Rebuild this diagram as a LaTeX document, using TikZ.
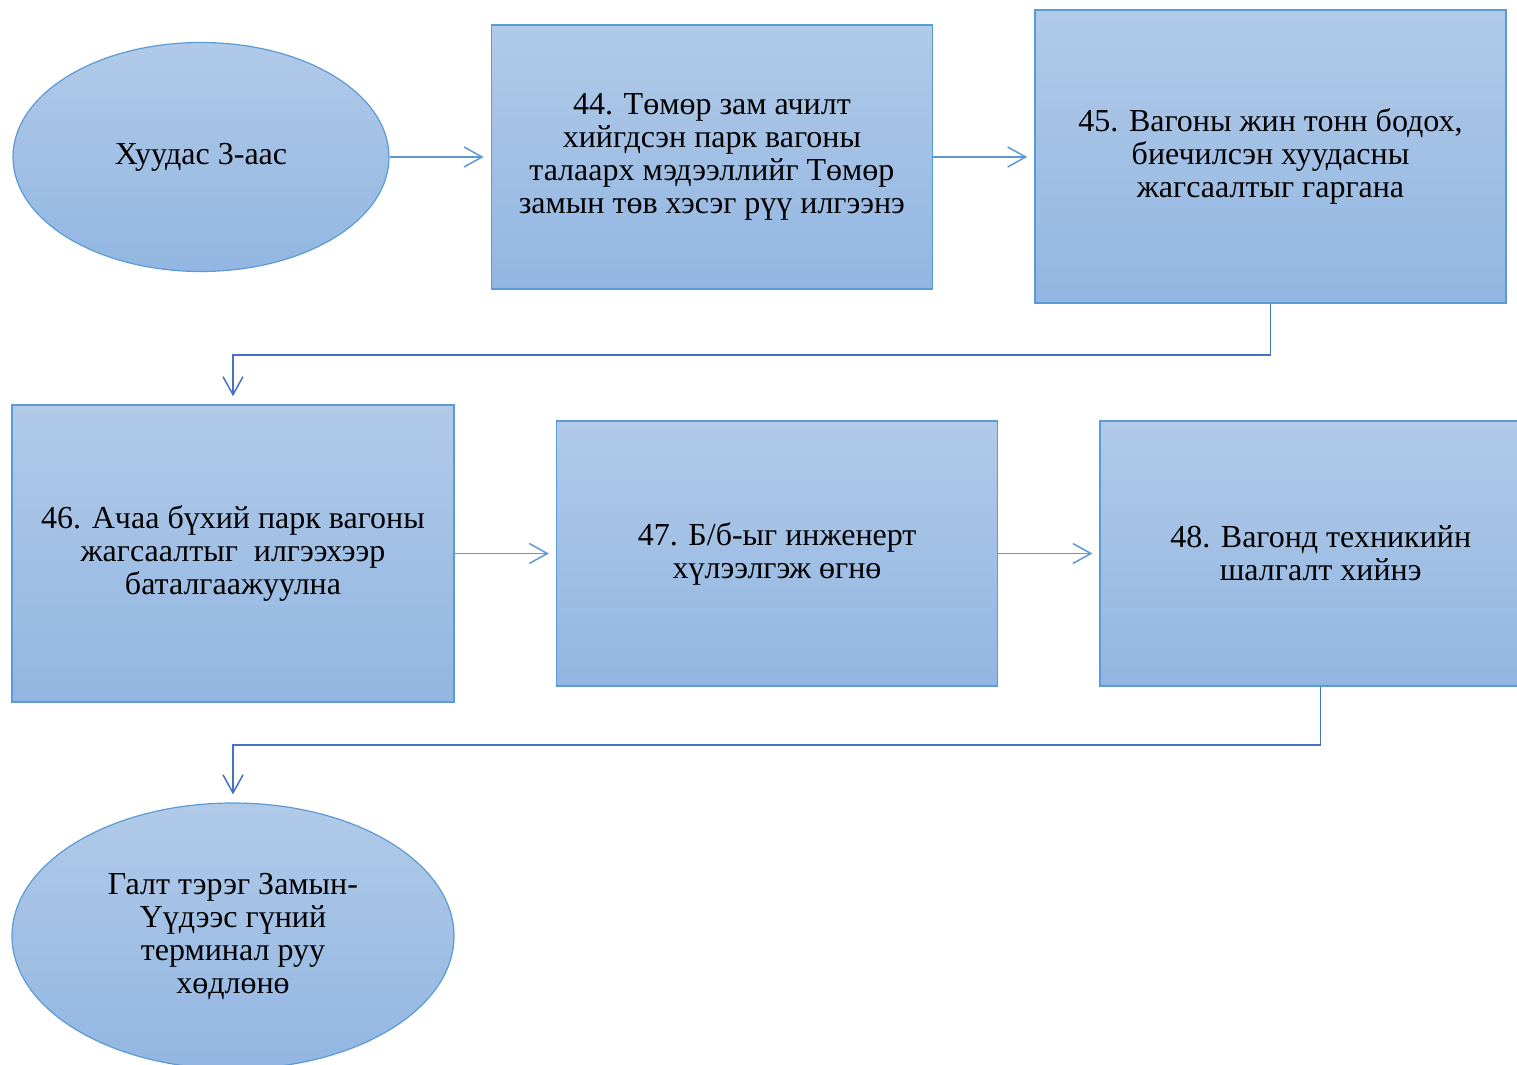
\documentclass[tikz,border=0pt]{standalone}
\usepackage{fontspec}
\setmainfont{Liberation Serif}
\usepackage{xcolor}
\usepackage{tikz}
\usetikzlibrary{shapes.geometric, arrows.meta, positioning, calc}
\definecolor{stepline}{RGB}{91,155,213}
\definecolor{steptop}{RGB}{177,202,232}
\definecolor{stepbottom}{RGB}{146,182,226}
\definecolor{elbowblue}{RGB}{68,114,196}
\tikzset{
  stepbox/.style={
    rectangle, draw=stepline, line width=0.8pt,
    top color=steptop, bottom color=stepbottom,
    align=center, font=\fontsize{16}{16.5}\selectfont, text=black,
    inner sep=0pt
  },
  terminal/.style={
    ellipse, draw=stepline, line width=0.6pt,
    top color=steptop, bottom color=stepbottom,
    align=center, font=\fontsize{16}{16.5}\selectfont, text=black,
    inner sep=0pt
  },
  arrow/.style={-{Straight Barb[length=9pt, width=10pt, line width=0.75pt]},
    line width=0.75pt, color=stepline, shorten >=3.5pt},
  elbow/.style={-{Straight Barb[length=9pt, width=10pt, line width=0.75pt]},
    line width=0.75pt, color=elbowblue, shorten >=4pt}
}
\begin{document}
\begin{tikzpicture}
  \clip (0pt,0pt) rectangle (758.5pt,-532.5pt);

  \node[terminal, minimum width=188pt, minimum height=114.5pt] (start)
    at (100.5pt,-78.5pt) {Хуудас 3-аас};
  \node[stepbox, right=50.5pt of start, minimum width=220.5pt,
        minimum height=132pt] (load)
    {44. Төмөр зам ачилт\\хийгдсэн парк вагоны\\талаарх мэдээллийг Төмөр\\замын төв хэсэг рүү илгээнэ};
  \node[stepbox, right=50.5pt of load, minimum width=235.5pt,
        minimum height=146.5pt, yshift=0.25pt] (weigh)
    {45. Вагоны жин тонн бодох,\\биечилсэн хуудасны\\жагсаалтыг гаргана};

  \node[stepbox, minimum width=221pt, minimum height=148.5pt] (confirm)
    at (116.5pt,-276.75pt)
    {46. Ачаа бүхий парк вагоны\\жагсаалтыг\ \ илгээхээр\\баталгаажуулна};
  \node[stepbox, right=50.5pt of confirm, minimum width=220.5pt,
        minimum height=132.5pt] (handover)
    {47. Б/б-ыг инженерт\\хүлээлгэж өгнө};
  \node[stepbox, right=50.5pt of handover, minimum width=220.5pt,
        minimum height=132.5pt] (inspect)
    {48. Вагонд техникийн\\шалгалт хийнэ};

  \node[terminal, minimum width=221pt, minimum height=133pt] (finish)
    at (116.5pt,-468pt)
    {Галт тэрэг Замын-\\Үүдээс гүний\\терминал руу\\хөдлөнө};

  \draw[arrow] (start) -- (load);
  \draw[arrow] (load) -- (weigh.west |- load);
  \draw[arrow] (confirm) -- (handover);
  \draw[arrow] (handover) -- (inspect);

  \draw[elbow] (weigh.south) -- ++(0,-25.5pt) -| (confirm.north);
  \draw[elbow] (inspect.south) -- ++(0,-29pt) -| (finish.north);
\end{tikzpicture}
\end{document}
